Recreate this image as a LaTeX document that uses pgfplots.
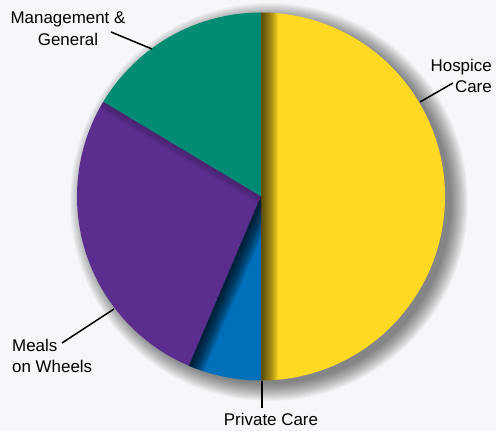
\documentclass[border=0pt]{standalone}
\usepackage{pgfplots}
\pgfplotsset{compat=1.18}
\usepackage{pgfplotstable}
\usepackage{fontspec}
\setmainfont{Liberation Sans}

\definecolor{bg}{HTML}{F5F7FA}
\definecolor{hosp}{HTML}{FDD923}
\definecolor{mgmt}{HTML}{008C73}
\definecolor{meals}{HTML}{5B2D8E}
\definecolor{priv}{HTML}{0070BA}

% share of each slice, percent (counter-clockwise from 12 o'clock)
\pgfplotstableread{
slice value
Management 16.4
Meals 27.2
Private 6.4
Hospice 50
}\piedata

\tikzset{
  wedge/.style 2 args={insert path={(axis cs:261,234.5) -- ++(#1:184bp)
      arc[start angle=#1, end angle=#2, radius=184bp] -- cycle}},
  lbl/.style={inner sep=0pt, font=\fontsize{17}{21}\selectfont},
}

\begin{document}
\begin{tikzpicture}
\pgfplotstablegetelem{0}{value}\of\piedata \let\vMgmt\pgfplotsretval
\pgfplotstablegetelem{1}{value}\of\piedata \let\vMeals\pgfplotsretval
\pgfplotstablegetelem{2}{value}\of\piedata \let\vPriv\pgfplotsretval
\pgfplotstablegetelem{3}{value}\of\piedata \let\vHosp\pgfplotsretval
\pgfmathsetmacro\aA{90}
\pgfmathsetmacro\aB{\aA+3.6*\vMgmt}
\pgfmathsetmacro\aC{\aB+3.6*\vMeals}
\pgfmathsetmacro\aD{\aC+3.6*\vPriv}
\pgfmathsetmacro\aE{\aD+3.6*\vHosp}
\begin{axis}[
    width=496bp, height=431bp, scale only axis,
    xmin=0, xmax=496, ymin=0, ymax=431,
    hide axis, clip=false,
]
  \coordinate (SW) at (axis cs:0,0);
  \coordinate (NE) at (axis cs:496,431);
  % background
  \fill[bg] (axis cs:0,0) rectangle (axis cs:496,431);

  % soft drop shadow round the pie
  \pgfplotsinvokeforeach{0,...,17}{
    \fill[black, opacity=0.03] (axis cs:269,229) circle[radius={(182+#1)*1bp}];
  }

  % slices
  \fill[mgmt]  [wedge={\aA}{\aB}];
  \fill[meals] [wedge={\aB}{\aC}];
  \fill[priv]  [wedge={\aC}{\aD}];
  \fill[hosp]  [wedge={\aD}{\aE}];

  % inner shadows along the slice edges
  \begin{scope}
    \clip[wedge={\aD}{\aE}];
    \pgfplotsinvokeforeach{1,...,17}{
      \fill[black, opacity=0.055] (axis cs:261,40) rectangle ++(#1bp,400bp);
    }
  \end{scope}
  \begin{scope}
    \clip[wedge={\aC}{\aD}];
    \begin{scope}[shift={(axis cs:261,234.5)}, rotate=\aC]
      \pgfplotsinvokeforeach{1,...,16}{
        \fill[black, opacity=0.07] (0,0) rectangle (200bp,#1bp);
      }
    \end{scope}
  \end{scope}
  \begin{scope}
    \clip[wedge={\aB}{\aC}];
    \begin{scope}[shift={(axis cs:261,234.5)}, rotate=\aB]
      \pgfplotsinvokeforeach{1,...,8}{
        \fill[black, opacity=0.025] (0,0) rectangle (200bp,#1bp);
      }
    \end{scope}
  \end{scope}

  % leader lines
  \draw[line width=1.5bp] (axis cs:111,399) -- (axis cs:152,382);
  \draw[line width=1.5bp] (axis cs:420,329) -- (axis cs:453,348);
  \draw[line width=1.5bp] (axis cs:62,88) -- (axis cs:114,122);
  \draw[line width=1.5bp] (axis cs:262,50) -- (axis cs:262,23);

  % labels
  \node[lbl, anchor=base] at (axis cs:68,407) {Management \&};
  \node[lbl, anchor=base] at (axis cs:68,385) {General};
  \node[lbl, anchor=base east] at (axis cs:492,359) {Hospice};
  \node[lbl, anchor=base east] at (axis cs:492,338) {Care};
  \node[lbl, anchor=base west] at (axis cs:12,79) {Meals};
  \node[lbl, anchor=base west] at (axis cs:12,58) {on Wheels};
  \node[lbl, anchor=base] at (axis cs:271,6) {Private Care};
\end{axis}
\pgfresetboundingbox
\path[use as bounding box] (SW) rectangle (NE);
\end{tikzpicture}
\end{document}
